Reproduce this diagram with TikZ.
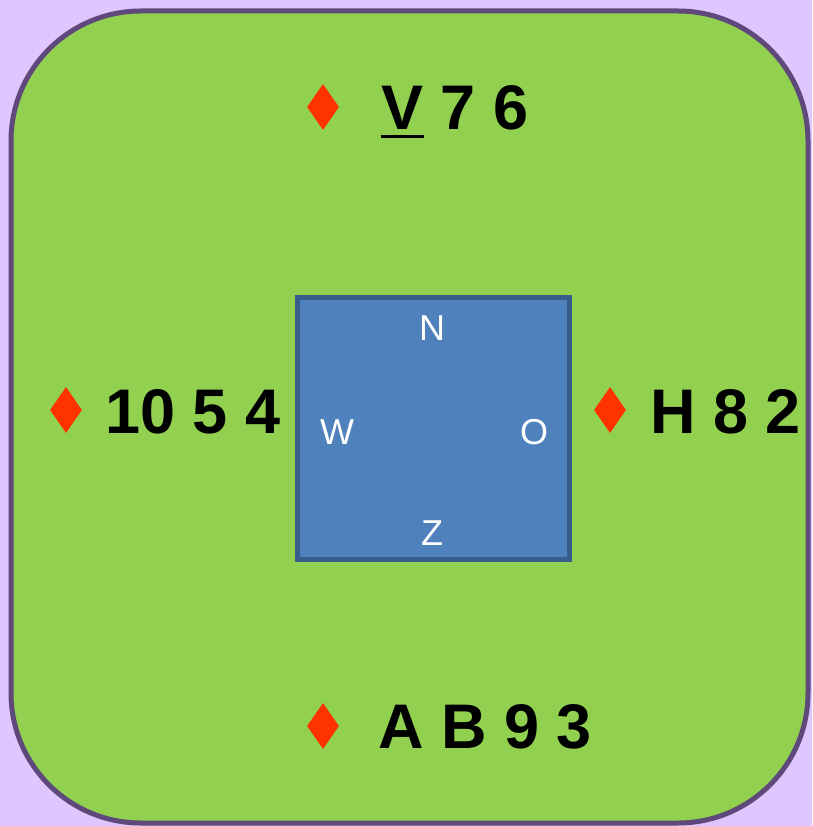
\documentclass[tikz,border=0pt]{standalone}
\usepackage{fontspec}
\setmainfont{Liberation Sans}
\usetikzlibrary{shapes.geometric}
\definecolor{bglav}{RGB}{224,198,255}
\definecolor{felt}{RGB}{146,208,80}
\definecolor{feltborder}{RGB}{95,73,122}
\definecolor{tablefill}{RGB}{79,129,189}
\definecolor{tableborder}{RGB}{56,93,138}
\definecolor{suitred}{RGB}{255,51,0}
\tikzset{
  suitdiamond/.style={shape=diamond, fill=suitred, draw=none, inner sep=0pt,
    minimum width=32pt, minimum height=46pt},
  handtext/.style={anchor=base west, inner sep=0pt, font=\fontsize{63}{70}\selectfont\bfseries},
  compass/.style={text=white, inner sep=0pt, font=\fontsize{36}{40}\selectfont}
}
\begin{document}
\begin{tikzpicture}[x=1pt,y=-1pt]
\useasboundingbox (0,0) rectangle (812,826);
\fill[bglav] (0,0) rectangle (812,826);
\draw[fill=felt, draw=feltborder, line width=5pt, rounded corners=130pt] (11,11) rectangle (808,823);
\draw[fill=tablefill, draw=tableborder, line width=5pt] (297.5,297.5) rectangle (569.5,559.5);
\node[compass] (n) at (432,328) {N};
\node[compass] (w) at (337,432) {W};
\node[compass] (o) at (534,432) {O};
\node[compass] (z) at (432,533) {Z};
% North
\node[suitdiamond] (dn) at (323,107) {};
\node[handtext] (hn) at (381,130) {\rlap{\rule[-8pt]{43pt}{3pt}}V 7 6};
% West
\node[suitdiamond] (dw) at (66,410) {};
\node[handtext] (hw) at (105,433) {10 5 4};
% East
\node[suitdiamond] (de) at (610,410) {};
\node[handtext] (he) at (650,433) {H 8 2};
% South
\node[suitdiamond] (ds) at (323,726) {};
\node[handtext] (hs) at (378,748) {A B 9 3};
\end{tikzpicture}
\end{document}
